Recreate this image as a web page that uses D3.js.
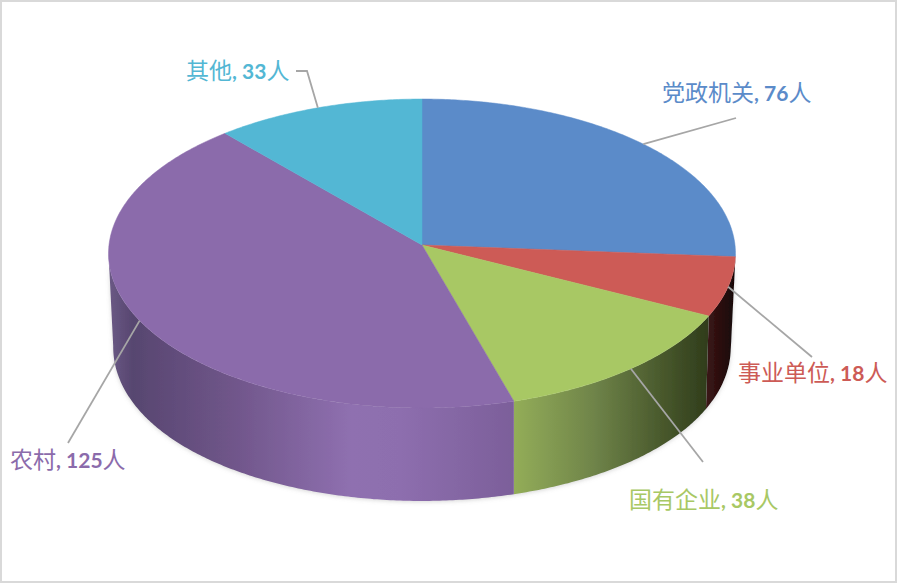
<!DOCTYPE html>
<html>
<head>
<meta charset="utf-8">
<script src="https://cdn.jsdelivr.net/npm/d3@7"></script>
<style>
html, body { margin: 0; padding: 0; background: #fff; }
svg { display: block; }
</style>
</head>
<body>
<div id="chart"></div>
<script>
var names = ['党政机关', '事业单位', '国有企业', '农村', '其他'];
var counts = [76, 18, 38, 125, 33];
var unit = '人';
var colors = ['#5b8bc9', '#cd5b56', '#a8c864', '#8b6bab', '#53b7d4'];

var width = 897, height = 583;

// where each label goes, and the elbow of its leader line
var labelX = [662, 738, 629, 10, 186];
var labelY = [101, 381, 508, 468, 79];
var leaderEnd = [[736, 118], [812, 357], [703, 462], [68, 443], [307, 71]];

var cx = 422, cy = 245;
var rx = 313, ry = 154;
var persp = 0.055;     // foreshortening of the tilted disc
var depth = 93;
var shrink = 0.015;    // bottom rim is a little narrower at the sides

var svg = d3.select('#chart').append('svg')
    .attr('width', width)
    .attr('height', height);

svg.append('rect')
    .attr('x', 1).attr('y', 1)
    .attr('width', width - 2).attr('height', height - 2)
    .attr('fill', '#fff')
    .attr('stroke', '#d9d9d9')
    .attr('stroke-width', 2);

var pie = d3.pie().sort(null).value(function(d) { return d; });
var arcs = pie(counts);

// unit scales for the disc, angle 0 at the top and going clockwise
var sx = d3.scaleLinear().domain([-1, 1]).range([cx - rx, cx + rx]);
var sy = d3.scaleLinear().domain([-1, 1]).range([cy + ry, cy - ry]);

function project(a, r) {
    var u = Math.sin(a) * r, v = Math.cos(a) * r;
    var w = 1 + persp * v;
    return [sx(u / w), sy(v / w)];
}

function projectBottom(a) {
    var p = project(a, 1);
    var k = 1 - shrink * Math.pow(Math.sin(a), 4);
    return [cx + (p[0] - cx) * k, p[1] + depth];
}

function sample(a0, a1, f) {
    var n = Math.max(2, Math.ceil(Math.abs(a1 - a0) / 0.01));
    return d3.range(n + 1).map(function(i) {
        return f(a0 + (a1 - a0) * i / n);
    });
}

var line = d3.line();
var rad = Math.PI / 180;

// front wall, only the part between the two silhouette points shows
var wallFrom = 93 * rad, wallTo = 267 * rad;

var wallStops = [
    [[0, '#6a7f9c'], [1, '#5b7aa0']],
    [[0, '#3c1616'], [0.5, '#2a0e0e'], [1, '#170505']],
    [[0, '#93ad58'], [0.4, '#70854a'], [0.75, '#4a5a2d'], [1, '#2f3c1b']],
    [[0, '#6b5a85'], [0.06, '#574670'], [0.3, '#6f5589'], [0.6, '#8f70b0'], [0.72, '#8d6eae'], [1, '#7c5f9a']],
    [[0, '#53b7d4'], [1, '#53b7d4']]
];

var defs = svg.append('defs');
var shadow = defs.append('filter').attr('id', 'soft')
    .attr('x', '-5%').attr('y', '-5%').attr('width', '110%').attr('height', '115%');
shadow.append('feDropShadow')
    .attr('dx', 0).attr('dy', 1).attr('stdDeviation', 2)
    .attr('flood-color', '#8a8a8a').attr('flood-opacity', 0.35);

var walls = svg.append('g').attr('filter', 'url(#soft)');

arcs.forEach(function(d, i) {
    var a0 = Math.max(d.startAngle, wallFrom);
    var a1 = Math.min(d.endAngle, wallTo);
    if (a1 <= a0) return;

    var top = sample(a0, a1, function(a) { return project(a, 1); });
    var bottom = sample(a1, a0, projectBottom);
    var pts = top.concat(bottom);
    var xr = d3.extent(pts, function(p) { return p[0]; });

    var grad = defs.append('linearGradient')
        .attr('id', 'wall' + i)
        .attr('gradientUnits', 'userSpaceOnUse')
        .attr('x1', xr[0]).attr('x2', xr[1])
        .attr('y1', 0).attr('y2', 0);
    wallStops[i].forEach(function(s) {
        grad.append('stop').attr('offset', s[0]).attr('stop-color', s[1]);
    });

    walls.append('path')
        .attr('d', line(pts) + 'Z')
        .attr('fill', 'url(#wall' + i + ')');
});

// top face
svg.append('g').selectAll('path')
    .data(arcs)
    .enter()
    .append('path')
    .attr('d', function(d) {
        var pts = [project(0, 0)].concat(sample(d.startAngle, d.endAngle, function(a) { return project(a, 1); }));
        return line(pts) + 'Z';
    })
    .attr('fill', function(d, i) { return colors[i]; })
    .attr('stroke', function(d, i) { return colors[i]; })
    .attr('stroke-width', 0.5);

// leader lines start on the rim at the middle of each slice
svg.append('g').selectAll('path')
    .data(arcs)
    .enter()
    .append('path')
    .attr('d', function(d, i) {
        var pts = [project((d.startAngle + d.endAngle) / 2, 1), leaderEnd[i]];
        if (i === 4) pts.push([leaderEnd[i][0] - 11, leaderEnd[i][1]]);
        return line(pts);
    })
    .attr('fill', 'none')
    .attr('stroke', '#a6a6a6')
    .attr('stroke-width', 1.8);

var labels = svg.append('g').selectAll('text')
    .data(names)
    .enter()
    .append('text')
    .attr('x', function(d, i) { return labelX[i]; })
    .attr('y', function(d, i) { return labelY[i]; })
    .attr('fill', function(d, i) { return colors[i]; })
    .attr('font-size', 23)
    .attr('font-family', '"Noto Sans CJK SC", sans-serif');

labels.append('tspan').text(function(d) { return d; });
labels.append('tspan')
    .attr('font-family', 'Lato, "Open Sans", sans-serif')
    .attr('font-weight', 700)
    .attr('font-size', 21)
    .text(function(d, i) { return ', ' + counts[i]; });
labels.append('tspan').text(unit);
</script>
</body>
</html>
